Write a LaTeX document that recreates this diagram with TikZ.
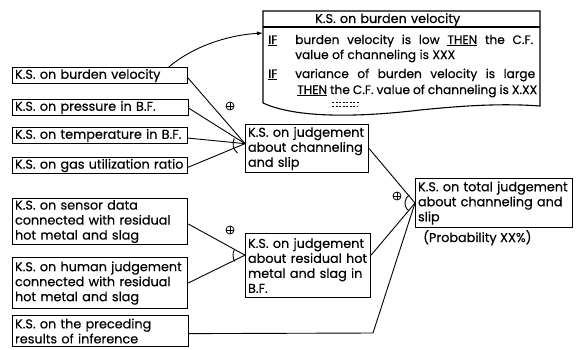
\documentclass[tikz,border=0pt]{standalone}
\usepackage{fontspec}
\setmainfont{Poppins}[FakeBold=0.4]
\usetikzlibrary{calc,arrows.meta}
\newcommand{\rl}[2]{\makebox[#1pt][s]{#2}}
\begin{document}
\begin{tikzpicture}[x=1pt,y=-1pt,
  ks/.style={draw, line width=1.1pt, anchor=north west, align=left, inner xsep=2.5pt, inner ysep=0.5pt, font=\fontsize{12.8}{15}\selectfont},
  conn/.style={line width=0.9pt},
  rt/.style={anchor=base west, inner sep=0pt, font=\fontsize{12.8}{15}\selectfont},
  rtx/.style={anchor=base west, inner sep=0pt, font=\fontsize{12.2}{15}\selectfont},
  andarc/.style={line width=0.9pt},
  oplus/.style={circle, draw, line width=0.8pt, minimum size=8pt, inner sep=0pt,
    path picture={\draw[line width=0.8pt] (path picture bounding box.north) -- (path picture bounding box.south)
      (path picture bounding box.west) -- (path picture bounding box.east);}}]
\clip (0,0) rectangle (583,349);
% left boxes
\node[ks, minimum width=175pt, text width=170pt, minimum height=16pt] (b1) at (12,67) {K.S. on burden velocity};
\node[ks, minimum width=176pt, text width=171pt, minimum height=16pt] (b2) at (12,99) {K.S. on pressure in B.F.};
\node[ks, minimum width=175pt, text width=170pt, minimum height=16pt] (b3) at (12,127) {K.S. on temperature in B.F.};
\node[ks, minimum width=175pt, text width=170pt, minimum height=16pt] (b4) at (12,157) {K.S. on gas utilization ratio};
\node[ks, minimum width=175pt, text width=170pt, minimum height=46pt] (b5) at (12,198) {K.S. on sensor data\\connected with residual\\hot metal and slag};
\node[ks, minimum width=175pt, text width=170pt, minimum height=51pt] (b6) at (12,257) {K.S. on human judgement\\connected with residual\\hot metal and slag};
\node[ks, minimum width=176pt, text width=171pt, minimum height=31pt] (b7) at (12,315) {K.S. on the preceding\\results of inference};
% middle boxes
\node[ks, minimum width=123pt, text width=118pt, minimum height=48pt] (A) at (245,124) {K.S. on judgement\\about channeling\\and slip};
\node[ks, minimum width=125pt, text width=120pt, minimum height=64pt] (B) at (245,233) {K.S. on judgement\\\rl{117}{about residual hot}\\\rl{115}{metal and slag in}\\B.F.};
% right box
\node[ks, minimum width=157pt, text width=152pt, minimum height=49pt] (C) at (415,178) {K.S. on total judgement\\about channeling and\\slip};
\node[rt] (prob) at (423,242) {(Probability XX\%)};
% rule box
\draw[line width=1.1pt] (263,103) -- (263,11) -- (540,11) -- (540,106)
  .. controls (500,103) and (460,106) .. (420,110)
  .. controls (370,116) and (300,120) .. (263,103);
\draw[line width=1.1pt] (263,27) -- (540,27);
\node[rt] (rh) at (315,23) {\rl{145}{K.S. on burden velocity}};
\coordinate (ruleL) at (263,33);
\node[rtx] (r1a) at (268,44) {\underline{IF}};
\node[rtx] (r1b) at (295,44) {\rl{238}{burden velocity is low \underline{THEN} the C.F.}};
\node[rtx] (r2) at (295,59) {\rl{160}{value of channeling is XXX}};
\node[rtx] (r3a) at (268,78) {\underline{IF}};
\node[rtx] (r3b) at (295,78) {\rl{240}{variance of burden velocity is large}};
\node[rtx] (r4) at (297,94) {\rl{240}{\underline{THEN} the C.F. value of channeling is X.XX}};
\draw[line width=0.8pt, dash pattern=on 2pt off 1.5pt] (332,102) -- (360,102);
\draw[line width=0.8pt, dash pattern=on 2pt off 1.5pt] (332,106) -- (358,106);
% arrow to rule box
\draw[conn,-{Latex[length=6pt,width=4pt]}] ($(b1.north west)!0.89!(b1.north east)$) .. controls (195,45) and (230,35) .. (ruleL);
% junctions
\coordinate (jA) at ($(A.north west)!0.4!(A.south west)$);
\coordinate (jB) at ($(B.north west)!0.34!(B.south west)$);
\coordinate (jC) at (C.west);
\draw[conn] ($(b1.north east)!0.65!(b1.south east)$) -- (jA);
\draw[conn] ($(b2.north east)!0.55!(b2.south east)$) -- (jA);
\draw[conn] ($(b3.north east)!0.65!(b3.south east)$) -- (jA);
\draw[conn] ($(b4.north east)!0.6!(b4.south east)$) -- (jA);
\draw[andarc] ($(jA)+(128:12)$) arc[start angle=128, end angle=206, radius=12];
\draw[conn] ($(b5.north east)!0.55!(b5.south east)$) -- (jB);
\draw[conn] (b6.east) -- (jB);
\draw[andarc] ($(jB)+(148:12)$) arc[start angle=148, end angle=210, radius=12];
\draw[conn] (A.east) -- (jC);
\draw[conn] ($(B.north east)!0.34!(B.south east)$) -- (jC);
\coordinate (bend) at (373,333);
\draw[conn] ($(b7.north east)!0.58!(b7.south east)$) -- (bend) -- (jC);
\draw[andarc] ($(jC)+(128:10)$) arc[start angle=128, end angle=235, radius=10];
% oplus marks
\node[oplus] (o1) at (230,106) {};
\node[oplus] (o2) at (230,230) {};
\node[oplus] (o3) at (397,196) {};
\end{tikzpicture}
\end{document}
